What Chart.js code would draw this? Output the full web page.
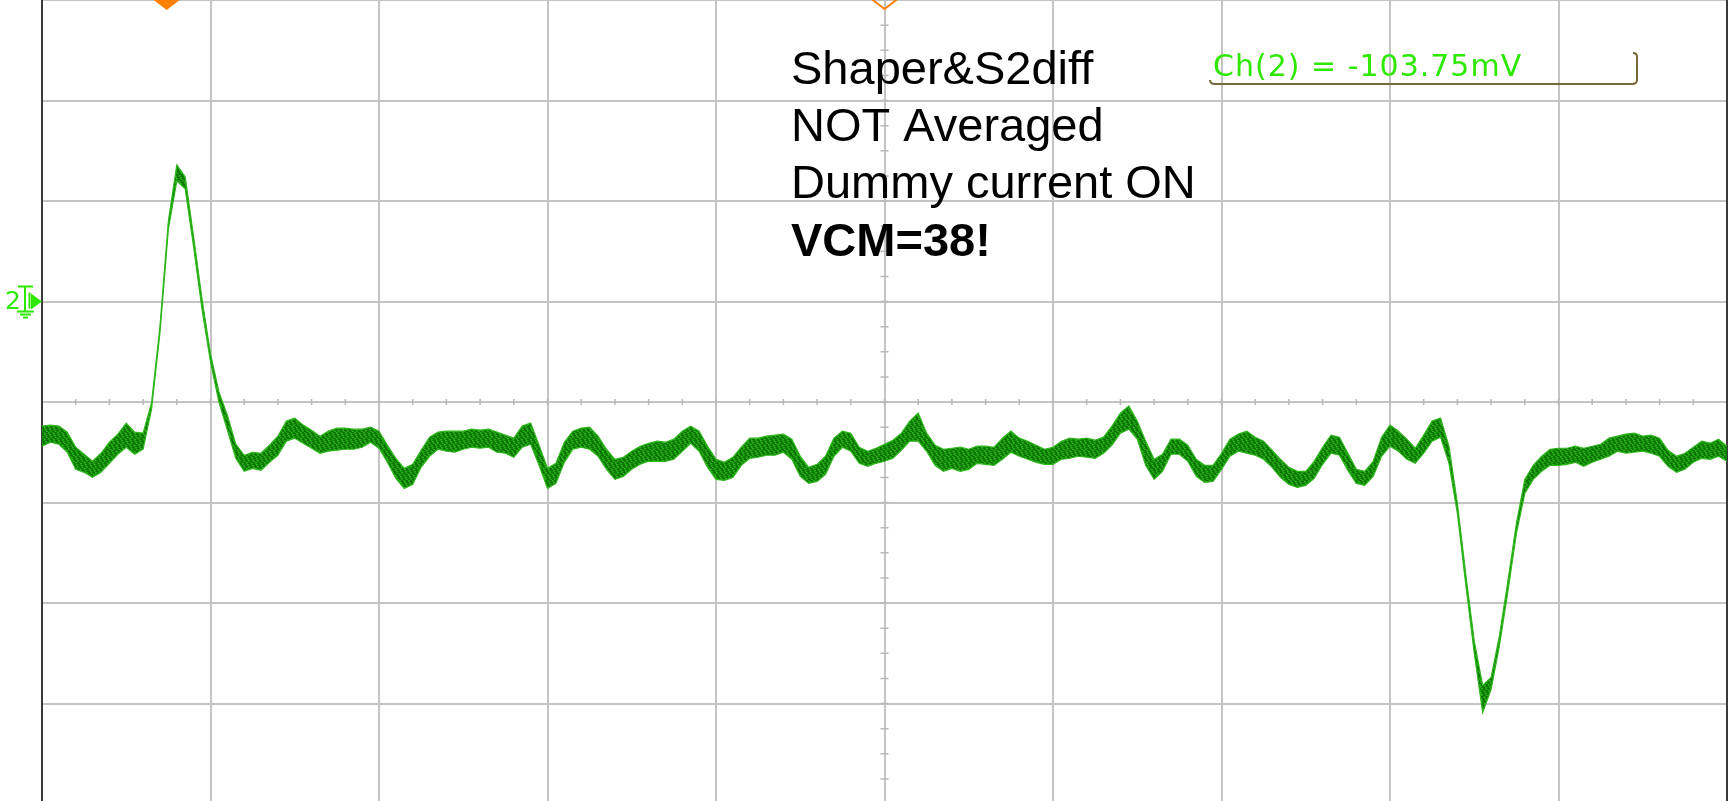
<!DOCTYPE html>
<html>
<head>
<meta charset="utf-8">
<script src="https://cdn.jsdelivr.net/npm/chart.js@4.4.1/dist/chart.umd.min.js"></script>
<style>
  html, body { margin: 0; padding: 0; background: #fff; overflow: hidden; }
  #wrap { position: absolute; left: 0; top: 0; width: 1729px; height: 805px; }
</style>
</head>
<body>
<div id="wrap"><canvas id="scope" width="1729" height="805"></canvas></div>
<script>
// scope screen: 10 horizontal x 8 vertical divisions, y = 0 is the centre line
// one sample every 0.05 div, upper/lower edge of the noisy trace band
const timeDiv = [
  0, 0.05, 0.1, 0.15, 0.2, 0.25, 0.3, 0.35, 0.4, 0.45,
  0.5, 0.55, 0.6, 0.65, 0.7, 0.75, 0.8, 0.85, 0.9, 0.95,
  1, 1.05, 1.1, 1.15, 1.2, 1.25, 1.3, 1.35, 1.4, 1.45,
  1.5, 1.55, 1.6, 1.65, 1.7, 1.75, 1.8, 1.85, 1.9, 1.95,
  2, 2.05, 2.1, 2.15, 2.2, 2.25, 2.3, 2.35, 2.4, 2.45,
  2.5, 2.55, 2.6, 2.65, 2.7, 2.75, 2.8, 2.85, 2.9, 2.95,
  3, 3.05, 3.1, 3.15, 3.2, 3.25, 3.3, 3.35, 3.4, 3.45,
  3.5, 3.55, 3.6, 3.65, 3.7, 3.75, 3.8, 3.85, 3.9, 3.95,
  4, 4.05, 4.1, 4.15, 4.2, 4.25, 4.3, 4.35, 4.4, 4.45,
  4.5, 4.55, 4.6, 4.65, 4.7, 4.75, 4.8, 4.85, 4.9, 4.95,
  5, 5.05, 5.1, 5.15, 5.2, 5.25, 5.3, 5.35, 5.4, 5.45,
  5.5, 5.55, 5.6, 5.65, 5.7, 5.75, 5.8, 5.85, 5.9, 5.95,
  6, 6.05, 6.1, 6.15, 6.2, 6.25, 6.3, 6.35, 6.4, 6.45,
  6.5, 6.55, 6.6, 6.65, 6.7, 6.75, 6.8, 6.85, 6.9, 6.95,
  7, 7.05, 7.1, 7.15, 7.2, 7.25, 7.3, 7.35, 7.4, 7.45,
  7.5, 7.55, 7.6, 7.65, 7.7, 7.75, 7.8, 7.85, 7.9, 7.95,
  8, 8.05, 8.1, 8.15, 8.2, 8.25, 8.3, 8.35, 8.4, 8.45,
  8.5, 8.55, 8.6, 8.65, 8.7, 8.75, 8.8, 8.85, 8.9, 8.95,
  9, 9.05, 9.1, 9.15, 9.2, 9.25, 9.3, 9.35, 9.4, 9.45,
  9.5, 9.55, 9.6, 9.65, 9.7, 9.75, 9.8, 9.85, 9.9, 9.95,
  10
];

const traceTop = [
  -0.24, -0.23, -0.24, -0.30, -0.45, -0.52, -0.59, -0.51, -0.40, -0.32,
  -0.21, -0.30, -0.31, -0.01, 0.75, 1.80, 2.36, 2.24, 1.64, 1.02,
  0.48, 0.10, -0.13, -0.42, -0.53, -0.50, -0.51, -0.43, -0.34, -0.19,
  -0.16, -0.23, -0.28, -0.34, -0.29, -0.26, -0.26, -0.27, -0.27, -0.25,
  -0.29, -0.43, -0.56, -0.66, -0.62, -0.48, -0.35, -0.30, -0.29, -0.29,
  -0.29, -0.27, -0.28, -0.27, -0.30, -0.33, -0.36, -0.24, -0.21, -0.43,
  -0.66, -0.61, -0.40, -0.29, -0.26, -0.25, -0.34, -0.47, -0.57, -0.55,
  -0.49, -0.44, -0.41, -0.39, -0.40, -0.37, -0.29, -0.24, -0.29, -0.44,
  -0.57, -0.60, -0.55, -0.45, -0.36, -0.36, -0.34, -0.33, -0.32, -0.37,
  -0.54, -0.65, -0.62, -0.54, -0.36, -0.29, -0.31, -0.45, -0.49, -0.46,
  -0.42, -0.38, -0.31, -0.19, -0.11, -0.31, -0.43, -0.47, -0.46, -0.45,
  -0.47, -0.44, -0.44, -0.45, -0.36, -0.29, -0.36, -0.39, -0.43, -0.47,
  -0.45, -0.39, -0.36, -0.37, -0.36, -0.38, -0.35, -0.24, -0.11, -0.04,
  -0.19, -0.39, -0.57, -0.52, -0.37, -0.37, -0.43, -0.57, -0.63, -0.63,
  -0.51, -0.37, -0.32, -0.29, -0.35, -0.39, -0.48, -0.57, -0.65, -0.69,
  -0.69, -0.59, -0.45, -0.33, -0.35, -0.51, -0.67, -0.69, -0.59, -0.35,
  -0.23, -0.29, -0.37, -0.46, -0.33, -0.19, -0.16, -0.44, -1.01, -1.72,
  -2.38, -2.82, -2.74, -2.32, -1.78, -1.21, -0.77, -0.63, -0.54, -0.47,
  -0.46, -0.46, -0.44, -0.46, -0.44, -0.42, -0.36, -0.34, -0.32, -0.31,
  -0.34, -0.33, -0.36, -0.48, -0.54, -0.51, -0.45, -0.39, -0.41, -0.37,
  -0.44
];

const traceBottom = [
  -0.44, -0.40, -0.42, -0.50, -0.67, -0.70, -0.75, -0.70, -0.61, -0.52,
  -0.45, -0.52, -0.47, -0.07, 0.69, 1.72, 2.20, 2.12, 1.54, 0.92,
  0.40, 0.00, -0.28, -0.56, -0.69, -0.66, -0.68, -0.60, -0.53, -0.39,
  -0.36, -0.41, -0.46, -0.51, -0.49, -0.48, -0.47, -0.47, -0.45, -0.40,
  -0.46, -0.60, -0.76, -0.86, -0.82, -0.65, -0.54, -0.47, -0.49, -0.50,
  -0.47, -0.45, -0.46, -0.45, -0.50, -0.51, -0.55, -0.45, -0.42, -0.63,
  -0.86, -0.81, -0.60, -0.47, -0.45, -0.47, -0.54, -0.67, -0.77, -0.74,
  -0.67, -0.62, -0.59, -0.59, -0.59, -0.57, -0.49, -0.41, -0.49, -0.65,
  -0.77, -0.78, -0.75, -0.63, -0.56, -0.55, -0.53, -0.53, -0.50, -0.57,
  -0.74, -0.81, -0.79, -0.72, -0.54, -0.45, -0.49, -0.61, -0.64, -0.61,
  -0.59, -0.56, -0.48, -0.39, -0.39, -0.49, -0.63, -0.69, -0.66, -0.69,
  -0.67, -0.61, -0.62, -0.63, -0.57, -0.50, -0.54, -0.57, -0.60, -0.62,
  -0.62, -0.57, -0.56, -0.54, -0.55, -0.56, -0.51, -0.43, -0.31, -0.27,
  -0.37, -0.63, -0.77, -0.69, -0.52, -0.52, -0.59, -0.74, -0.80, -0.79,
  -0.67, -0.54, -0.49, -0.51, -0.53, -0.57, -0.65, -0.75, -0.82, -0.85,
  -0.83, -0.76, -0.62, -0.51, -0.53, -0.68, -0.81, -0.83, -0.74, -0.54,
  -0.44, -0.49, -0.57, -0.61, -0.51, -0.39, -0.35, -0.61, -1.11, -1.82,
  -2.50, -3.09, -2.86, -2.42, -1.88, -1.31, -0.91, -0.77, -0.69, -0.63,
  -0.63, -0.62, -0.60, -0.64, -0.60, -0.57, -0.54, -0.49, -0.51, -0.50,
  -0.49, -0.51, -0.54, -0.64, -0.70, -0.67, -0.60, -0.56, -0.57, -0.54,
  -0.59
];

const noteLines = ['Shaper&S2diff', 'NOT Averaged', 'Dummy current ON'];
const noteBold = 'VCM=38!';
const readoutText = 'Ch(2) = -103.75mV';
const triggerMarkX = 0.74;   // filled orange marker
const delayMarkX = 5;        // hollow orange marker
const ch2Ground = 1;         // channel 2 reference level, in div

const traceGreen = '#2fb81c';
const markGreen = '#2ee800';
const orange = '#ff8000';

// speckled green so the band reads like a dense noisy trace
const makeNoiseFill = () => {
    const shades = ['#0b7600', '#1e9e10', '#0e8200', '#2bb21c', '#0a6e00', '#17920a', '#0d7c02', '#22a614', '#0c7800'];
    const c = document.createElement('canvas');
    c.width = 9;
    c.height = 6;
    const g = c.getContext('2d');
    for (let i = 0; i < 9; i++) {
        for (let j = 0; j < 6; j++) {
            g.fillStyle = shades[(i * 4 + j * 7) % shades.length];
            g.fillRect(i, j, 1, 1);
        }
    }
    return g.createPattern(c, 'repeat');
};

const toPoints = (ys) => timeDiv.map((t, i) => ({ x: t, y: ys[i] }));

const scopeDecor = {
    id: 'scopeDecor',
    beforeDatasetsDraw(chart) {
        const { ctx, chartArea: a, scales: { x, y } } = chart;
        const yc = y.getPixelForValue(0);
        const xc = x.getPixelForValue(5);
        ctx.save();
        ctx.strokeStyle = '#b8b8b8';
        ctx.lineWidth = 1.5;
        ctx.beginPath();
        for (let i = 1; i < 50; i++) {
            const px = x.getPixelForValue(i * 0.2);
            ctx.moveTo(px, yc - 3);
            ctx.lineTo(px, yc + 3);
        }
        for (let i = -16; i <= 16; i++) {
            const py = y.getPixelForValue(i * 0.25);
            ctx.moveTo(xc - 4, py);
            ctx.lineTo(xc + 4, py);
        }
        ctx.stroke();
        ctx.strokeStyle = '#3a3a3a';
        ctx.lineWidth = 2;
        ctx.beginPath();
        ctx.moveTo(a.right, a.top);
        ctx.lineTo(a.right, a.bottom);
        ctx.stroke();
        ctx.restore();
    },
    afterDraw(chart) {
        const { ctx, scales: { x, y } } = chart;
        ctx.save();

        // orange time markers on the top edge
        const tx = x.getPixelForValue(triggerMarkX);
        ctx.fillStyle = orange;
        ctx.beginPath();
        ctx.moveTo(tx - 13, 0);
        ctx.lineTo(tx + 13, 0);
        ctx.lineTo(tx, 10);
        ctx.closePath();
        ctx.fill();
        const dx = x.getPixelForValue(delayMarkX);
        ctx.strokeStyle = orange;
        ctx.lineWidth = 2;
        ctx.beginPath();
        ctx.moveTo(dx - 13, -1);
        ctx.lineTo(dx, 9);
        ctx.lineTo(dx + 13, -1);
        ctx.stroke();

        // channel 2 ground marker
        const gy = y.getPixelForValue(ch2Ground);
        ctx.fillStyle = markGreen;
        ctx.strokeStyle = markGreen;
        ctx.font = '25px "DejaVu Sans", sans-serif';
        ctx.textBaseline = 'alphabetic';
        ctx.fillText('2', 5, gy + 7);
        ctx.lineWidth = 2;
        ctx.beginPath();
        ctx.moveTo(18, gy - 15); ctx.lineTo(33, gy - 15);
        ctx.moveTo(25, gy - 15); ctx.lineTo(25, gy + 10);
        ctx.moveTo(29.5, gy - 9); ctx.lineTo(29.5, gy + 7);
        ctx.moveTo(17, gy + 10); ctx.lineTo(34, gy + 10);
        ctx.moveTo(20, gy + 13); ctx.lineTo(31, gy + 13);
        ctx.moveTo(23, gy + 16); ctx.lineTo(28, gy + 16);
        ctx.stroke();
        ctx.beginPath();
        ctx.moveTo(31, gy - 8);
        ctx.lineTo(42, gy);
        ctx.lineTo(31, gy + 8);
        ctx.closePath();
        ctx.fill();

        // notes
        ctx.fillStyle = '#000';
        ctx.font = '47px "Liberation Sans", Arial, sans-serif';
        const baselines = [84, 141, 198];
        noteLines.forEach((s, i) => ctx.fillText(s, 791, baselines[i]));
        ctx.font = 'bold 47px "Liberation Sans", Arial, sans-serif';
        ctx.fillText(noteBold, 791, 256);

        // measurement readout
        ctx.strokeStyle = '#766a3a';
        ctx.lineWidth = 2;
        ctx.beginPath();
        ctx.moveTo(1210, 80);
        ctx.quadraticCurveTo(1210, 84, 1215, 84);
        ctx.lineTo(1632, 84);
        ctx.quadraticCurveTo(1637, 84, 1637, 80);
        ctx.lineTo(1637, 57);
        ctx.quadraticCurveTo(1637, 53, 1633, 53);
        ctx.stroke();
        ctx.fillStyle = markGreen;
        ctx.font = '30px "DejaVu Sans", sans-serif';
        ctx.letterSpacing = '1px';
        ctx.fillText(readoutText, 1213, 76);
        ctx.letterSpacing = '0px';
        ctx.restore();
    }
};

const ctx = document.getElementById('scope').getContext('2d');

new Chart(ctx, {
    type: 'line',
    data: {
        datasets: [
            {
                label: 'top',
                data: toPoints(traceTop),
                borderColor: traceGreen,
                borderWidth: 1.2,
                pointRadius: 0,
                fill: false
            },
            {
                label: 'bottom',
                data: toPoints(traceBottom),
                borderColor: traceGreen,
                backgroundColor: makeNoiseFill(),
                borderWidth: 1.2,
                pointRadius: 0,
                fill: '-1'
            }
        ]
    },
    options: {
        responsive: false,
        animation: false,
        devicePixelRatio: 1,
        layout: { padding: { left: 42, right: 2, top: 0, bottom: 1 } },
        plugins: { legend: { display: false }, tooltip: { enabled: false } },
        scales: {
            x: {
                type: 'linear',
                min: 0,
                max: 10,
                ticks: { display: false, stepSize: 1 },
                grid: { color: '#c4c4c4', lineWidth: 2, drawTicks: false },
                border: { display: false }
            },
            y: {
                min: -4,
                max: 4,
                ticks: { display: false, stepSize: 1 },
                grid: { color: '#c4c4c4', lineWidth: 2, drawTicks: false },
                border: { display: true, color: '#3a3a3a', width: 2 }
            }
        }
    },
    plugins: [scopeDecor]
});
</script>
</body>
</html>
